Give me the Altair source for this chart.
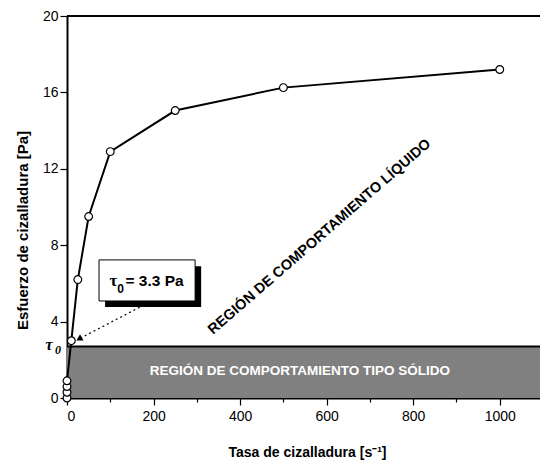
import altair as alt
import pandas as pd

# ---- data ----
shear_rate = [0, 0, 0, 0, 10, 25, 50, 100, 250, 500, 1000]
stress = [0.0, 0.3, 0.6, 0.9, 3.0, 6.2, 9.5, 12.9, 15.05, 16.25, 17.2]
tau0 = 2.7
x_max = 1093
y_max = 20

x_ticks = [0, 100, 200, 300, 400, 500, 600, 700, 800, 900, 1000]
y_ticks = [0, 2, 4, 6, 8, 10, 12, 14, 16, 18, 20]

solid_label = "REGIÓN DE COMPORTAMIENTO TIPO SÓLIDO"
liquid_label = "REGIÓN DE COMPORTAMIENTO LÍQUIDO"
box_text = "= 3.3 Pa"

FONT = "Liberation Sans"
SERIF = "Liberation Serif"

df = pd.DataFrame({"x": shear_rate, "y": stress, "i": list(range(len(stress)))})

xs = alt.Scale(domain=[0, x_max], nice=False, zero=False)
ys = alt.Scale(domain=[0, y_max], nice=False, zero=False)

xaxis = alt.Axis(
    values=x_ticks,
    labelExpr="datum.value % 200 == 0 ? datum.label : ''",
    tickSize={"condition": {"test": "datum.value % 200 == 0", "value": 7}, "value": 4},
    title="Tasa de cizalladura [s⁻¹]",
    grid=False, domainColor="black", domainWidth=2, tickColor="black", tickWidth=1.2,
    labelFont=FONT, labelFontSize=14, labelColor="black", labelPadding=4,
    titleFont=FONT, titleFontSize=14, titleFontWeight="bold", titleColor="black",
    titleX=240, titleY=54, titleBaseline="middle", titleAlign="center", format="d",
)
yaxis = alt.Axis(
    values=y_ticks,
    labelExpr="datum.value % 4 == 0 ? datum.label : ''",
    tickSize={"condition": {"test": "datum.value % 4 == 0", "value": 7}, "value": 4},
    title="Esfuerzo de cizalladura [Pa]",
    grid=False, domainColor="black", domainWidth=2, tickColor="black", tickWidth=1.2,
    labelFont=FONT, labelFontSize=14, labelColor="black", labelPadding=2,
    titleFont=FONT, titleFontSize=15, titleFontWeight="bold", titleColor="black",
    titleX=-45, titleY=214, titleAngle=-90, titleBaseline="middle", titleAlign="center",
    format="d",
)

base = alt.Chart(df)

solid = alt.Chart(pd.DataFrame({"x": [0], "x2": [x_max], "y": [0], "y2": [tau0]})).mark_rect(
    color="#808080"
).encode(
    x=alt.X("x:Q", scale=xs, axis=xaxis),
    x2="x2:Q",
    y=alt.Y("y:Q", scale=ys, axis=yaxis),
    y2="y2:Q",
)

solid_top = alt.Chart(pd.DataFrame({"x": [0], "x2": [x_max], "y": [tau0]})).mark_rule(
    color="black", strokeWidth=2
).encode(x=alt.X("x:Q", scale=xs), x2="x2:Q", y=alt.Y("y:Q", scale=ys))

top_border = alt.Chart(pd.DataFrame({"x": [0], "x2": [x_max], "y": [y_max]})).mark_rule(
    color="black", strokeWidth=2
).encode(x=alt.X("x:Q", scale=xs), x2="x2:Q", y=alt.Y("y:Q", scale=ys))

line = base.mark_line(color="black", strokeWidth=2).encode(
    x=alt.X("x:Q", scale=xs), y=alt.Y("y:Q", scale=ys), order="i:Q"
)
points = base.mark_point(
    shape="circle", size=60, filled=True, fill="white", stroke="black", strokeWidth=1.2, opacity=1
).encode(x=alt.X("x:Q", scale=xs), y=alt.Y("y:Q", scale=ys))

solid_text = alt.Chart(pd.DataFrame({"x": [538], "y": [1.43], "t": [solid_label]})).mark_text(
    font=FONT, fontSize=13.5, fontWeight="bold", color="white", align="center", baseline="middle"
).encode(x=alt.X("x:Q", scale=xs), y=alt.Y("y:Q", scale=ys), text="t:N")

liquid_text = alt.Chart(pd.DataFrame({"x": [584], "y": [8.43], "t": [liquid_label]})).mark_text(
    font=FONT, fontSize=14.5, fontWeight="bold", color="black", align="center", baseline="middle", angle=319
).encode(x=alt.X("x:Q", scale=xs), y=alt.Y("y:Q", scale=ys), text="t:N")

shadow = alt.Chart(pd.DataFrame({"x": [88], "x2": [310], "y": [4.77], "y2": [6.9]})).mark_rect(
    color="black"
).encode(x=alt.X("x:Q", scale=xs), x2="x2:Q", y=alt.Y("y:Q", scale=ys), y2="y2:Q")
box = alt.Chart(pd.DataFrame({"x": [74], "x2": [296], "y": [5.08], "y2": [7.23]})).mark_rect(
    fill="white", stroke="black", strokeWidth=1
).encode(x=alt.X("x:Q", scale=xs), x2="x2:Q", y=alt.Y("y:Q", scale=ys), y2="y2:Q")

tau_sym = alt.Chart(pd.DataFrame({"x": [107], "y": [6.1], "t": ["τ"]})).mark_text(
    font=SERIF, fontSize=17, fontWeight="bold", color="black",
    align="center", baseline="middle"
).encode(x=alt.X("x:Q", scale=xs), y=alt.Y("y:Q", scale=ys), text="t:N")
tau_sub = alt.Chart(pd.DataFrame({"x": [124], "y": [5.72], "t": ["0"]})).mark_text(
    font=FONT, fontSize=12, fontWeight="bold", color="black", align="center", baseline="middle"
).encode(x=alt.X("x:Q", scale=xs), y=alt.Y("y:Q", scale=ys), text="t:N")
box_label = alt.Chart(pd.DataFrame({"x": [135], "y": [6.15], "t": [box_text]})).mark_text(
    font=FONT, fontSize=15.5, fontWeight="bold", color="black", align="left", baseline="middle"
).encode(x=alt.X("x:Q", scale=xs), y=alt.Y("y:Q", scale=ys), text="t:N")

arrow = alt.Chart(pd.DataFrame({"x": [168], "y": [4.75], "x2": [30], "y2": [3.12]})).mark_rule(
    color="black", strokeWidth=1.2, strokeDash=[2, 3]
).encode(x=alt.X("x:Q", scale=xs), y=alt.Y("y:Q", scale=ys), x2="x2:Q", y2="y2:Q")
arrow_head = alt.Chart(pd.DataFrame({"x": [30], "y": [3.12]})).mark_point(
    shape="triangle", size=50, filled=True, color="black", opacity=1, angle=241
).encode(x=alt.X("x:Q", scale=xs), y=alt.Y("y:Q", scale=ys))

tau_axis = alt.Chart(pd.DataFrame({"y": [tau0 + 0.1], "t": ["τ"]})).mark_text(
    font=SERIF, fontSize=16, fontWeight="bold", fontStyle="italic", color="black",
    align="center", baseline="middle"
).encode(x=alt.value(-18), y=alt.Y("y:Q", scale=ys), text="t:N")
tau_axis_sub = alt.Chart(pd.DataFrame({"y": [tau0 - 0.2], "t": ["0"]})).mark_text(
    font=SERIF, fontSize=12, fontWeight="bold", fontStyle="italic", color="black",
    align="center", baseline="middle"
).encode(x=alt.value(-9), y=alt.Y("y:Q", scale=ys), text="t:N")

chart = alt.layer(
    solid, solid_top, top_border, line, points, solid_text, liquid_text,
    arrow, arrow_head, shadow, box, tau_sym, tau_sub, box_label, tau_axis, tau_axis_sub,
).properties(
    width=473, height=382,
    autosize=alt.AutoSizeParams(type="none"),
    padding={"left": 67, "top": 16, "right": 0, "bottom": 65},
).configure_view(stroke=None).configure(background="white")

chart.save("out.html", embed_options={"renderer": "svg", "actions": False})
